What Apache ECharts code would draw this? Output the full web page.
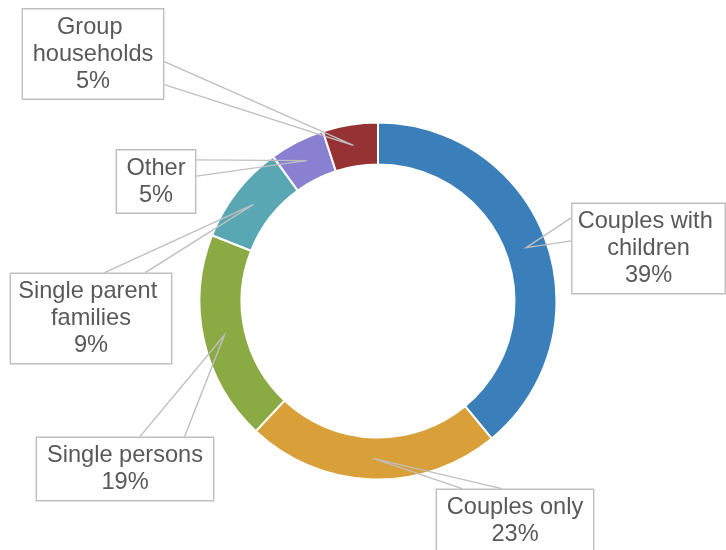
<!DOCTYPE html>
<html>
<head>
<meta charset="utf-8">
<script src="https://cdn.jsdelivr.net/npm/echarts@6/dist/echarts.min.js"></script>
<style>
  html, body { margin: 0; padding: 0; background: #ffffff; }
  #chart { width: 726px; height: 550px; }
</style>
</head>
<body>
<div id="chart"></div>
<script>
// Household composition, shares in percent (clockwise from 12 o'clock)
const categories = [
  'Couples with children',
  'Couples only',
  'Single persons',
  'Single parent families',
  'Other',
  'Group households'
];
const shares = [39, 23, 19, 9, 5, 5];
const sliceColors = ['#3a7fba', '#d99f38', '#8baa43', '#5aa7b4', '#8a80d2', '#963234'];

// Callout boxes: [left, top, width, height] in pixels
const calloutBoxes = [
  [572.5, 204, 152, 89],
  [437, 490, 156, 62],
  [37, 438, 176, 62],
  [11, 273, 160, 91],
  [117, 150, 78, 63],
  [23, 10, 140, 88]
];

const CENTER = [378, 301];
const OUTER_R = 178.5;
const INNER_R = 136.5;
const MID_R = (OUTER_R + INNER_R) / 2;
const PAD_X = 2, PAD_Y = 4;
const GREY = '#bfbfbf';

const ringData = categories.map((name, i) => ({
  name: name,
  value: shares[i],
  itemStyle: { color: sliceColors[i] }
}));

const calloutData = categories.map((name, i) => ({
  name: name,
  value: shares[i],
  label: { width: calloutBoxes[i][2] - 2 * PAD_X }
}));

// Rectangular callout pointer: the wedge base sits on the box side facing
// the tip, spanning 2/12..5/12 or 7/12..10/12 of that side.
function wedgePoints(box, tip) {
  const x = box.x, y = box.y, w = box.w, h = box.h;
  const dx = tip[0] - (x + w / 2);
  const dy = tip[1] - (y + h / 2);
  const dq = dx * h / w;
  if (Math.abs(dy) > Math.abs(dq)) {
    const g1 = dx > 0 ? 7 : 2, g2 = dx > 0 ? 10 : 5;
    const ey = dy > 0 ? y + h : y;
    return [[x + w * g1 / 12, ey], tip, [x + w * g2 / 12, ey]];
  }
  const g1 = dy > 0 ? 7 : 2, g2 = dy > 0 ? 10 : 5;
  const ex = dx > 0 ? x + w : x;
  return [[ex, y + h * g1 / 12], tip, [ex, y + h * g2 / 12]];
}

const chart = echarts.init(document.getElementById('chart'), null, { renderer: 'canvas' });

chart.setOption({
  backgroundColor: '#ffffff',
  animation: false,
  series: [
    {
      type: 'pie',
      silent: true,
      z: 2,
      center: CENTER,
      radius: [INNER_R, OUTER_R],
      startAngle: 90,
      clockwise: true,
      label: { show: false },
      labelLine: { show: false },
      itemStyle: { borderColor: '#ffffff', borderWidth: 2 },
      data: ringData
    },
    {
      // transparent twin whose rim runs through the middle of the ring;
      // it carries the callout labels and their pointers
      type: 'pie',
      silent: true,
      z: 10,
      center: CENTER,
      radius: [MID_R - 1, MID_R],
      startAngle: 90,
      clockwise: true,
      avoidLabelOverlap: false,
      itemStyle: { color: 'rgba(0,0,0,0)', borderWidth: 0 },
      label: {
        show: true,
        position: 'outside',
        formatter: '{b}\n{d}%',
        fontFamily: '"Liberation Sans", Arial, sans-serif',
        fontSize: 23.6,
        lineHeight: 27,
        color: '#595959',
        overflow: 'break',
        backgroundColor: '#ffffff',
        borderColor: GREY,
        borderWidth: 1.4,
        padding: [PAD_Y, PAD_X]
      },
      labelLine: {
        show: true,
        lineStyle: { color: GREY, width: 1.4 }
      },
      labelLayout: function (params) {
        const b = calloutBoxes[params.dataIndex];
        const cx = b[0] + b[2] / 2;
        const cy = b[1] + b[3] / 2;
        const lw = params.labelRect.width;
        const lh = params.labelRect.height;
        const tip = params.labelLinePoints[0];
        return {
          x: cx,
          y: cy,
          align: 'center',
          verticalAlign: 'middle',
          labelLinePoints: wedgePoints(
            { x: cx - lw / 2, y: cy - lh / 2, w: lw, h: lh },
            [tip[0], tip[1]]
          )
        };
      },
      data: calloutData
    }
  ]
});
</script>
</body>
</html>
